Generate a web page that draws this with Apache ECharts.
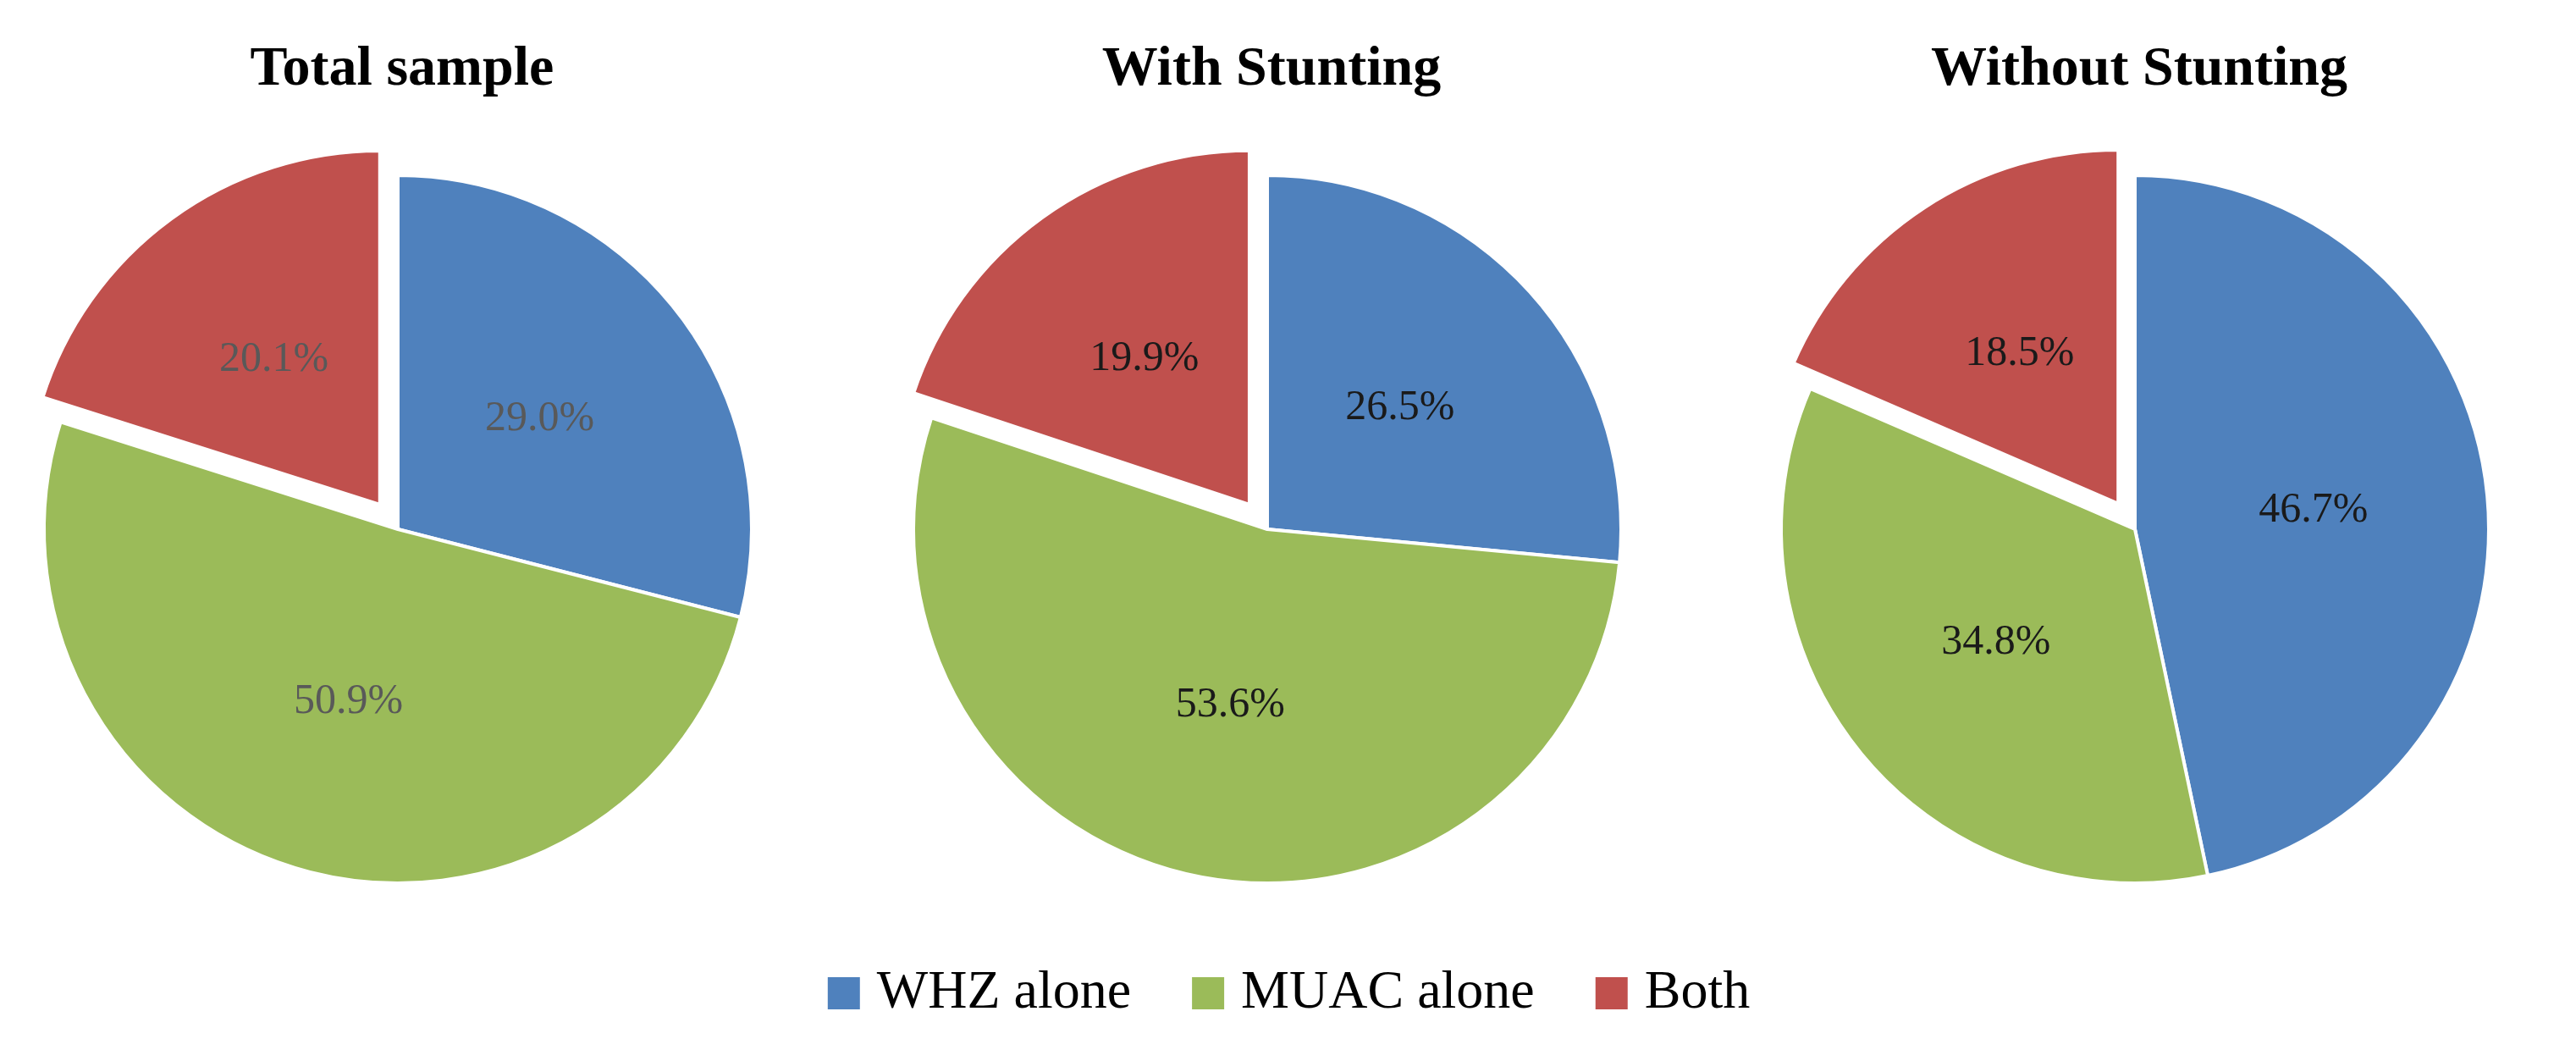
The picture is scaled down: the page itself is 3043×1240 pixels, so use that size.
<!DOCTYPE html>
<html><head><meta charset="utf-8">
<script src="https://cdn.jsdelivr.net/npm/echarts@6/dist/echarts.min.js"></script>
<style>html,body{margin:0;background:#fff}#main{width:3043px;height:1240px}</style>
</head><body><div id="main"></div>
<script>
var chart = echarts.init(document.getElementById('main'));

var categories = ['WHZ alone', 'MUAC alone', 'Both'];
var titles = ['Total sample', 'With Stunting', 'Without Stunting'];
var totalSample = [29.0, 50.9, 20.1];
var withStunting = [26.5, 53.6, 19.9];
var withoutStunting = [46.7, 34.8, 18.5];
var colors = ['#4f81bd', '#9bbb59', '#c0504d'];

var allData = [totalSample, withStunting, withoutStunting];
var centersX = [470, 1497, 2522];
var labelColors = ['#595959', '#1a1a1a', '#1a1a1a'];
var font = '"Liberation Serif", "DejaVu Serif", serif';

var series = allData.map(function (vals, i) {
    return {
        type: 'pie',
        center: [centersX[i], 625],
        radius: [0, 418],
        startAngle: 90,
        clockwise: true,
        selectedOffset: 36,
        selectedMode: 'single',
        itemStyle: { borderColor: '#fff', borderWidth: 4 },
        label: {
            position: 'inner',
            formatter: function (p) { return p.value.toFixed(1) + '%'; },
            fontFamily: font, fontSize: 50, color: labelColors[i]
        },
        labelLine: { show: false },
        emphasis: { disabled: true },
        data: vals.map(function (v, j) {
            return { name: categories[j], value: v, selected: j === 2 };
        })
    };
});

option = {
    color: colors,
    animation: false,
    title: titles.map(function (t, i) {
        return {
            text: t, left: centersX[i], top: 45, textAlign: 'center',
            textStyle: { fontFamily: font, fontWeight: 'bold', fontSize: 66, color: '#000' }
        };
    }),
    legend: {
        data: categories,
        selectedMode: false,
        bottom: 30, left: 'center',
        itemWidth: 40, itemHeight: 40, itemGap: 70,
        icon: 'rect',
        textStyle: { fontFamily: font, fontSize: 64, color: '#000', padding: [0, 0, 0, 14] }
    },
    series: series
};

chart.setOption(option);
</script></body></html>
